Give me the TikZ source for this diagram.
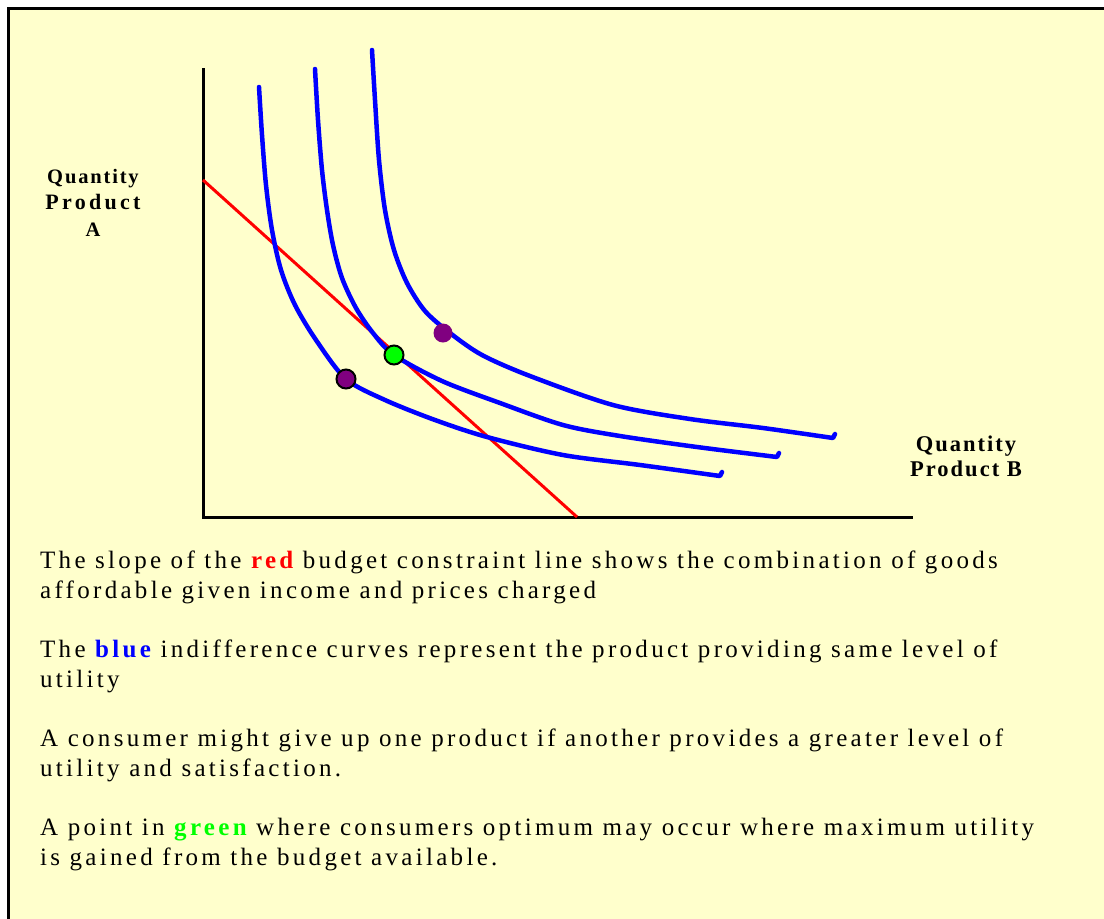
\documentclass[tikz,border=0pt]{standalone}
\usepackage{fontspec}
\setmainfont{Liberation Serif}
\newfontfamily\bodyfont[LetterSpace=13.2]{Liberation Serif}
\newfontfamily\axisfont[LetterSpace=9]{Liberation Serif}
\definecolor{paper}{HTML}{FFFFCC}
\definecolor{dotpurple}{HTML}{800080}
\definecolor{dotgreen}{HTML}{00FF00}
\tikzset{
  icurve/.style={blue,line width=4.5pt,line cap=round,line join=round},
  budget/.style={red,line width=3pt},
  axisline/.style={line width=3pt},
  dot/.style={circle,inner sep=0pt,minimum size=19pt},
  axislabel/.style={font=\axisfont\bfseries\fontsize{22}{26}\selectfont,align=center,anchor=north,inner sep=0pt},
  para/.style={font=\bodyfont\fontsize{25}{29.5}\selectfont,align=left,anchor=north west,inner sep=0pt}
}
\begin{document}
\begin{tikzpicture}[x=1pt,y=-1pt]
  \useasboundingbox (0,0) rectangle (1104,919);
  \fill[paper] (8,8) rectangle (1110,925);
  \draw[line width=3pt] (1110,8) -- (8,8) -- (8,925);
  % axes and budget line
  \coordinate (ytop) at (203,68); \coordinate (origin) at (203,517); \coordinate (xend) at (913,517);
  \coordinate (budgetA) at (203,180); \coordinate (budgetB) at (577,517);
  \draw[axisline] (ytop) -- (origin) -- (xend);
  \draw[budget] (budgetA) -- (budgetB);
  % indifference curves
  \draw[icurve] plot[smooth] coordinates {(259,87) (262,135) (266,185) (272,230) (281,270) (295,305) (316,340) (346,379) (385,400) (435,420) (487,437) (563,455) (640,465) (720,476)} -- ++(2,-4);
  \draw[icurve] plot[smooth] coordinates {(315,69) (318,120) (322,170) (327,210) (333,245) (342,278) (356,308) (373,333) (394,355) (442,381) (500,403) (563,425) (620,436) (697,447) (777,457)} -- ++(2,-4);
  \draw[icurve] plot[smooth] coordinates {(372,50) (375,100) (379,160) (385,210) (394,250) (407,283) (425,311) (450,333) (482,355) (530,376) (613,405) (690,419) (763,428) (833,438)} -- ++(2,-4);
  % points
  \node[dot,fill=dotpurple,draw=black,line width=2pt] (low) at (346,379) {};
  \node[dot,fill=dotgreen,draw=black,line width=2pt] (optimum) at (394,355) {};
  \node[dot,fill=dotpurple] (high) at (443,333) {};
  % labels
  \node[axislabel,font=\axisfont\bfseries\fontsize{20.5}{26.5}\selectfont] (qa) at (93,169) {Quantity\\\fontsize{22}{26.5}\selectfont\addfontfeature{LetterSpace=15}Product\\A};
  \node[axislabel,font=\axisfont\bfseries\fontsize{22.5}{25}\selectfont] (qb) at (966,436) {Quantity\\Product B};
  \node[para] (p1) at (40,551) {The slope of the \textcolor{red}{\bfseries red} budget constraint line shows the combination of goods\\affordable given income and prices charged};
  \node[para] (p2) at (40,640) {The \textcolor{blue}{\bfseries blue} indifference curves represent the product providing same level of\\utility};
  \node[para] (p3) at (40,729) {A consumer might give up one product if another provides a greater level of\\utility and satisfaction.};
  \node[para] (p4) at (40,818) {A point in \textcolor{dotgreen}{\bfseries green} where consumers optimum may occur where maximum utility\\is gained from the budget available.};
\end{tikzpicture}
\end{document}
